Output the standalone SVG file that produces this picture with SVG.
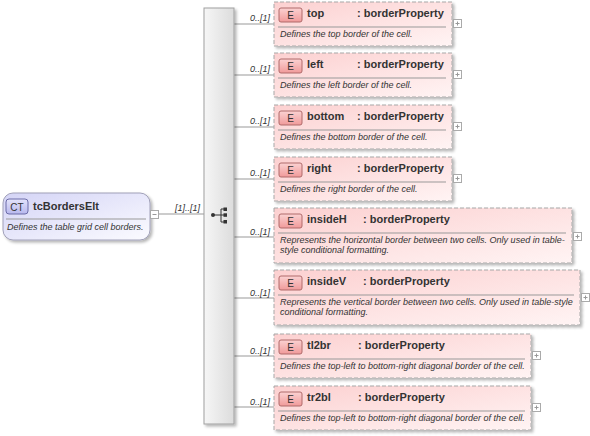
<svg xmlns="http://www.w3.org/2000/svg" width="590" height="436" viewBox="0 0 590 436">
<defs>
<linearGradient id="gEl" x1="0" y1="0" x2="1" y2="1">
<stop offset="0" stop-color="#fcd0d0"/>
<stop offset="1" stop-color="#fff4f4"/>
</linearGradient>
<linearGradient id="gBadgeE" x1="0" y1="0" x2="0" y2="1">
<stop offset="0" stop-color="#fbd2d2"/>
<stop offset="1" stop-color="#f09a9a"/>
</linearGradient>
<linearGradient id="gCT" x1="0" y1="0" x2="1" y2="1">
<stop offset="0" stop-color="#d4d4f6"/>
<stop offset="1" stop-color="#fbfbff"/>
</linearGradient>
<linearGradient id="gBadgeCT" x1="0" y1="0" x2="0" y2="1">
<stop offset="0" stop-color="#e4e4fb"/>
<stop offset="1" stop-color="#b8b8ee"/>
</linearGradient>
<linearGradient id="gSeq" x1="0" y1="0" x2="1" y2="0">
<stop offset="0" stop-color="#f6f6f6"/>
<stop offset="1" stop-color="#dcdcdc"/>
</linearGradient>
<filter id="sh" x="-10%" y="-10%" width="130%" height="130%">
<feGaussianBlur in="SourceAlpha" stdDeviation="1.5"/>
<feOffset dx="2" dy="2" result="b"/>
<feComponentTransfer><feFuncA type="linear" slope="0.3"/></feComponentTransfer>
<feMerge><feMergeNode/><feMergeNode in="SourceGraphic"/></feMerge>
</filter>
</defs>
<style>
.el{fill:url(#gEl);stroke:#a8a8a8;stroke-width:1;stroke-dasharray:4,2;filter:url(#sh)}
.be{fill:url(#gBadgeE);stroke:#b06a6a;stroke-width:1}
.bt{font-family:"Liberation Sans",Arial,sans-serif;font-size:10px;fill:#333;text-anchor:middle}
.nm{font-family:"Liberation Sans",Arial,sans-serif;font-size:11px;font-weight:bold;fill:#333}
.ds{font-family:"Liberation Sans",Arial,sans-serif;font-size:9px;font-style:italic;fill:#333}
.sep{stroke:#999;stroke-width:1}
.cn{stroke:#999;stroke-width:1;fill:none}
.oc{font-family:"Liberation Sans",Arial,sans-serif;font-size:9px;font-style:italic;fill:#333;text-anchor:end}
.pb{fill:#fff;stroke:#aaa;stroke-width:1}
.pl{stroke:#999;stroke-width:1}
</style>

<g id="connectors">
<line class="cn" x1="158" y1="214" x2="204" y2="214"/>
<text class="oc" x="200" y="211">[1]..[1]</text>
<line class="cn" x1="234" y1="24" x2="274" y2="24"/>
<text class="oc" x="270" y="21">0..[1]</text>
<line class="cn" x1="234" y1="75" x2="274" y2="75"/>
<text class="oc" x="270" y="72">0..[1]</text>
<line class="cn" x1="234" y1="127" x2="274" y2="127"/>
<text class="oc" x="270" y="124">0..[1]</text>
<line class="cn" x1="234" y1="179" x2="274" y2="179"/>
<text class="oc" x="270" y="176">0..[1]</text>
<line class="cn" x1="234" y1="237" x2="274" y2="237"/>
<text class="oc" x="270" y="235">0..[1]</text>
<line class="cn" x1="234" y1="298" x2="274" y2="298"/>
<text class="oc" x="270" y="296">0..[1]</text>
<line class="cn" x1="234" y1="356" x2="274" y2="356"/>
<text class="oc" x="270" y="354">0..[1]</text>
<line class="cn" x1="234" y1="407" x2="274" y2="407"/>
<text class="oc" x="270" y="405">0..[1]</text>
</g>

<g id="tcBordersElt">
<rect x="3" y="193" width="147" height="47" rx="10" ry="10" fill="url(#gCT)" stroke="#a0a0b8" stroke-width="1" filter="url(#sh)"/>
<rect x="6" y="199" width="22" height="15" rx="3" ry="3" fill="url(#gBadgeCT)" stroke="#6c6ca8" stroke-width="1"/>
<text x="17" y="210.5" font-family="Liberation Sans,Arial,sans-serif" font-size="10" fill="#333" text-anchor="middle">CT</text>
<text class="nm" x="33" y="210">tcBordersElt</text>
<line class="sep" x1="6" y1="219" x2="146" y2="219"/>
<text class="ds" x="7" y="230">Defines the table grid cell borders.</text>
<rect class="pb" x="150.5" y="210.5" width="8" height="8"/>
<line class="pl" x1="152.5" y1="214.5" x2="156.5" y2="214.5"/>
</g>

<g id="sequence">
<rect x="204" y="8" width="30" height="416" fill="url(#gSeq)" stroke="#a0a0a0" stroke-width="1" filter="url(#sh)"/>
<circle cx="213" cy="215" r="2" fill="#333"/>
<line x1="213" y1="215" x2="221" y2="215" stroke="#333" stroke-width="1"/>
<line x1="221" y1="209" x2="221" y2="222" stroke="#333" stroke-width="1"/>
<line x1="221" y1="209" x2="225" y2="209" stroke="#333" stroke-width="1"/>
<line x1="221" y1="222" x2="225" y2="222" stroke="#333" stroke-width="1"/>
<line x1="221" y1="215" x2="225" y2="215" stroke="#333" stroke-width="1"/>
<rect x="223.5" y="207.5" width="3.5" height="3.5" fill="#333"/>
<rect x="223.5" y="213.3" width="3.5" height="3.5" fill="#333"/>
<rect x="223.5" y="220" width="3.5" height="3.5" fill="#333"/>
</g>

<g id="top">
<rect class="el" x="274" y="2" width="178" height="44"/>
<rect class="be" x="279" y="8" width="23" height="14" rx="2"/>
<text class="bt" x="290.5" y="19">E</text>
<text class="nm" x="307" y="17">top</text>
<text class="nm" x="357" y="17">: borderProperty</text>
<line class="sep" x1="278" y1="27" x2="446" y2="27"/>
<text class="ds" x="280" y="37">Defines the top border of the cell.</text>
<rect class="pb" x="453.5" y="19.5" width="8" height="8"/>
<line class="pl" x1="455.5" y1="23.5" x2="459.5" y2="23.5"/><line class="pl" x1="457.5" y1="21.5" x2="457.5" y2="25.5"/>
</g>

<g id="left">
<rect class="el" x="274" y="53" width="178" height="44"/>
<rect class="be" x="279" y="59" width="23" height="14" rx="2"/>
<text class="bt" x="290.5" y="70">E</text>
<text class="nm" x="307" y="68">left</text>
<text class="nm" x="357" y="68">: borderProperty</text>
<line class="sep" x1="278" y1="78" x2="446" y2="78"/>
<text class="ds" x="280" y="88">Defines the left border of the cell.</text>
<rect class="pb" x="453.5" y="70.5" width="8" height="8"/>
<line class="pl" x1="455.5" y1="74.5" x2="459.5" y2="74.5"/><line class="pl" x1="457.5" y1="72.5" x2="457.5" y2="76.5"/>
</g>

<g id="bottom">
<rect class="el" x="274" y="105" width="178" height="44"/>
<rect class="be" x="279" y="111" width="23" height="14" rx="2"/>
<text class="bt" x="290.5" y="122">E</text>
<text class="nm" x="307" y="120">bottom</text>
<text class="nm" x="357" y="120">: borderProperty</text>
<line class="sep" x1="278" y1="130" x2="446" y2="130"/>
<text class="ds" x="280" y="140">Defines the bottom border of the cell.</text>
<rect class="pb" x="453.5" y="122.5" width="8" height="8"/>
<line class="pl" x1="455.5" y1="126.5" x2="459.5" y2="126.5"/><line class="pl" x1="457.5" y1="124.5" x2="457.5" y2="128.5"/>
</g>

<g id="right">
<rect class="el" x="274" y="157" width="178" height="44"/>
<rect class="be" x="279" y="163" width="23" height="14" rx="2"/>
<text class="bt" x="290.5" y="174">E</text>
<text class="nm" x="307" y="172">right</text>
<text class="nm" x="357" y="172">: borderProperty</text>
<line class="sep" x1="278" y1="182" x2="446" y2="182"/>
<text class="ds" x="280" y="192">Defines the right border of the cell.</text>
<rect class="pb" x="453.5" y="174.5" width="8" height="8"/>
<line class="pl" x1="455.5" y1="178.5" x2="459.5" y2="178.5"/><line class="pl" x1="457.5" y1="176.5" x2="457.5" y2="180.5"/>
</g>

<g id="insideH">
<rect class="el" x="274" y="208" width="298" height="55"/>
<rect class="be" x="279" y="214" width="23" height="14" rx="2"/>
<text class="bt" x="290.5" y="225">E</text>
<text class="nm" x="307" y="223">insideH</text>
<text class="nm" x="363" y="223">: borderProperty</text>
<line class="sep" x1="278" y1="233" x2="566" y2="233"/>
<text class="ds" x="280" y="243">Represents the horizontal border between two cells. Only used in table-</text>
<text class="ds" x="280" y="253">style conditional formatting.</text>
<rect class="pb" x="573.5" y="232.5" width="8" height="8"/>
<line class="pl" x1="575.5" y1="236.5" x2="579.5" y2="236.5"/><line class="pl" x1="577.5" y1="234.5" x2="577.5" y2="238.5"/>
</g>

<g id="insideV">
<rect class="el" x="274" y="270" width="306" height="55"/>
<rect class="be" x="279" y="276" width="23" height="14" rx="2"/>
<text class="bt" x="290.5" y="287">E</text>
<text class="nm" x="307" y="285">insideV</text>
<text class="nm" x="363" y="285">: borderProperty</text>
<line class="sep" x1="278" y1="295" x2="574" y2="295"/>
<text class="ds" x="280" y="305">Represents the vertical border between two cells. Only used in table-style</text>
<text class="ds" x="280" y="315">conditional formatting.</text>
<rect class="pb" x="581.5" y="293.5" width="8" height="8"/>
<line class="pl" x1="583.5" y1="297.5" x2="587.5" y2="297.5"/><line class="pl" x1="585.5" y1="295.5" x2="585.5" y2="299.5"/>
</g>

<g id="tl2br">
<rect class="el" x="274" y="334" width="257" height="44"/>
<rect class="be" x="279" y="340" width="23" height="14" rx="2"/>
<text class="bt" x="290.5" y="351">E</text>
<text class="nm" x="307" y="349">tl2br</text>
<text class="nm" x="358" y="349">: borderProperty</text>
<line class="sep" x1="278" y1="359" x2="525" y2="359"/>
<text class="ds" x="280" y="369">Defines the top-left to bottom-right diagonal border of the cell.</text>
<rect class="pb" x="532.5" y="351.5" width="8" height="8"/>
<line class="pl" x1="534.5" y1="355.5" x2="538.5" y2="355.5"/><line class="pl" x1="536.5" y1="353.5" x2="536.5" y2="357.5"/>
</g>

<g id="tr2bl">
<rect class="el" x="274" y="386" width="257" height="44"/>
<rect class="be" x="279" y="392" width="23" height="14" rx="2"/>
<text class="bt" x="290.5" y="403">E</text>
<text class="nm" x="307" y="401">tr2bl</text>
<text class="nm" x="358" y="401">: borderProperty</text>
<line class="sep" x1="278" y1="411" x2="525" y2="411"/>
<text class="ds" x="280" y="421">Defines the top-left to bottom-right diagonal border of the cell.</text>
<rect class="pb" x="532.5" y="403.5" width="8" height="8"/>
<line class="pl" x1="534.5" y1="407.5" x2="538.5" y2="407.5"/><line class="pl" x1="536.5" y1="405.5" x2="536.5" y2="409.5"/>
</g>
</svg>
